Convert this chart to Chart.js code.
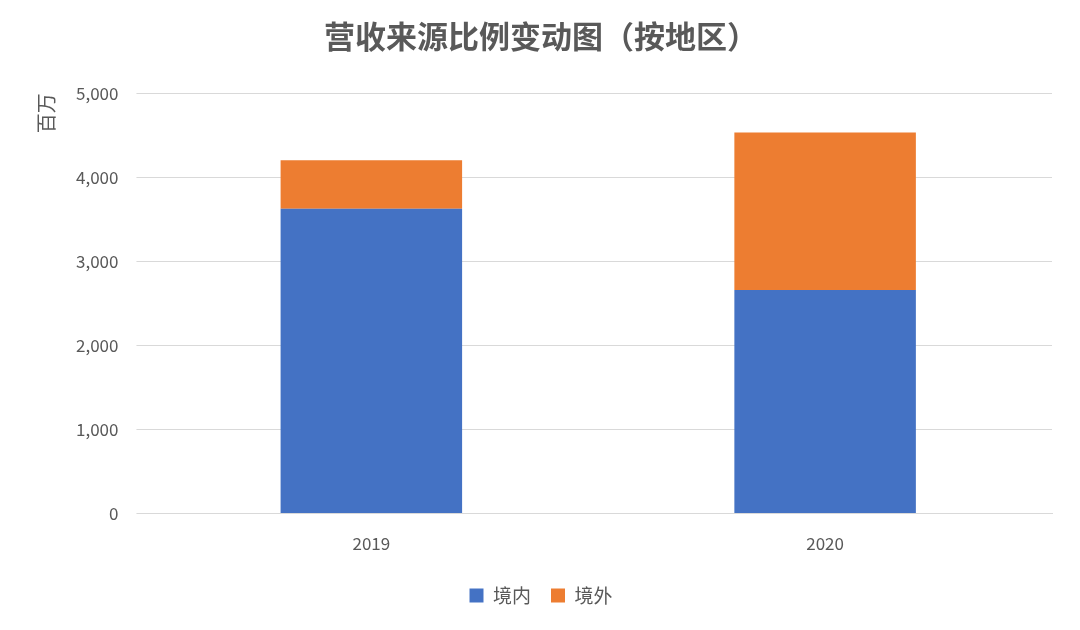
<!DOCTYPE html>
<html><head><meta charset="utf-8">
<script src="https://cdn.jsdelivr.net/npm/chart.js@4/dist/chart.umd.min.js"></script>
<style>body{margin:0;background:#fff}#w{width:1080px;height:630px}</style>
</head><body><div id="w"><canvas id="c"></canvas></div>
<script>
const categories = ['2019', '2020'];
const domestic = [3627, 2659];
const overseas = [576, 1875];
const yTicks = [0, 1000, 2000, 3000, 4000, 5000];
const F = "'Noto Sans CJK SC','Noto Sans',sans-serif";
new Chart(document.getElementById('c'), {
  type: 'bar',
  data: { labels: categories, datasets: [
    { label: '境内', data: domestic, backgroundColor: '#4472C4', categoryPercentage: 0.8, barPercentage: 0.5 },
    { label: '境外', data: overseas, backgroundColor: '#ED7D31', categoryPercentage: 0.8, barPercentage: 0.5 }
  ]},
  options: {
    responsive: true, maintainAspectRatio: false, animation: false,
    layout: { padding: { left: 30, right: 28, top: 10, bottom: 15 } },
    plugins: {
      title: { display: true, text: '营收来源比例变动图（按地区）', color: '#595959', font: { family: F, size: 31 }, padding: { top: 8, bottom: 38 } },
      legend: { position: 'bottom', labels: { boxWidth: 14, boxHeight: 14, color: '#595959', font: { family: F, size: 19 }, padding: 20 } },
      tooltip: { enabled: false }
    },
    scales: {
      x: { stacked: true, grid: { display: false }, border: { color: '#d9d9d9' }, ticks: { color: '#595959', font: { family: F, size: 17 }, padding: 12 } },
      y: { stacked: true, min: 0, max: 5000, afterBuildTicks: s => { s.ticks = yTicks.map(v => ({ value: v })); },
        grid: { color: '#d9d9d9' }, border: { display: false },
        ticks: { color: '#595959', font: { family: F, size: 17 }, padding: 18, callback: v => v.toLocaleString('en-US') },
        title: { display: true, text: '百万', align: 'end', color: '#595959', font: { family: F, size: 20 }, padding: { bottom: 0 } } }
    }
  }
});
</script></body></html>
